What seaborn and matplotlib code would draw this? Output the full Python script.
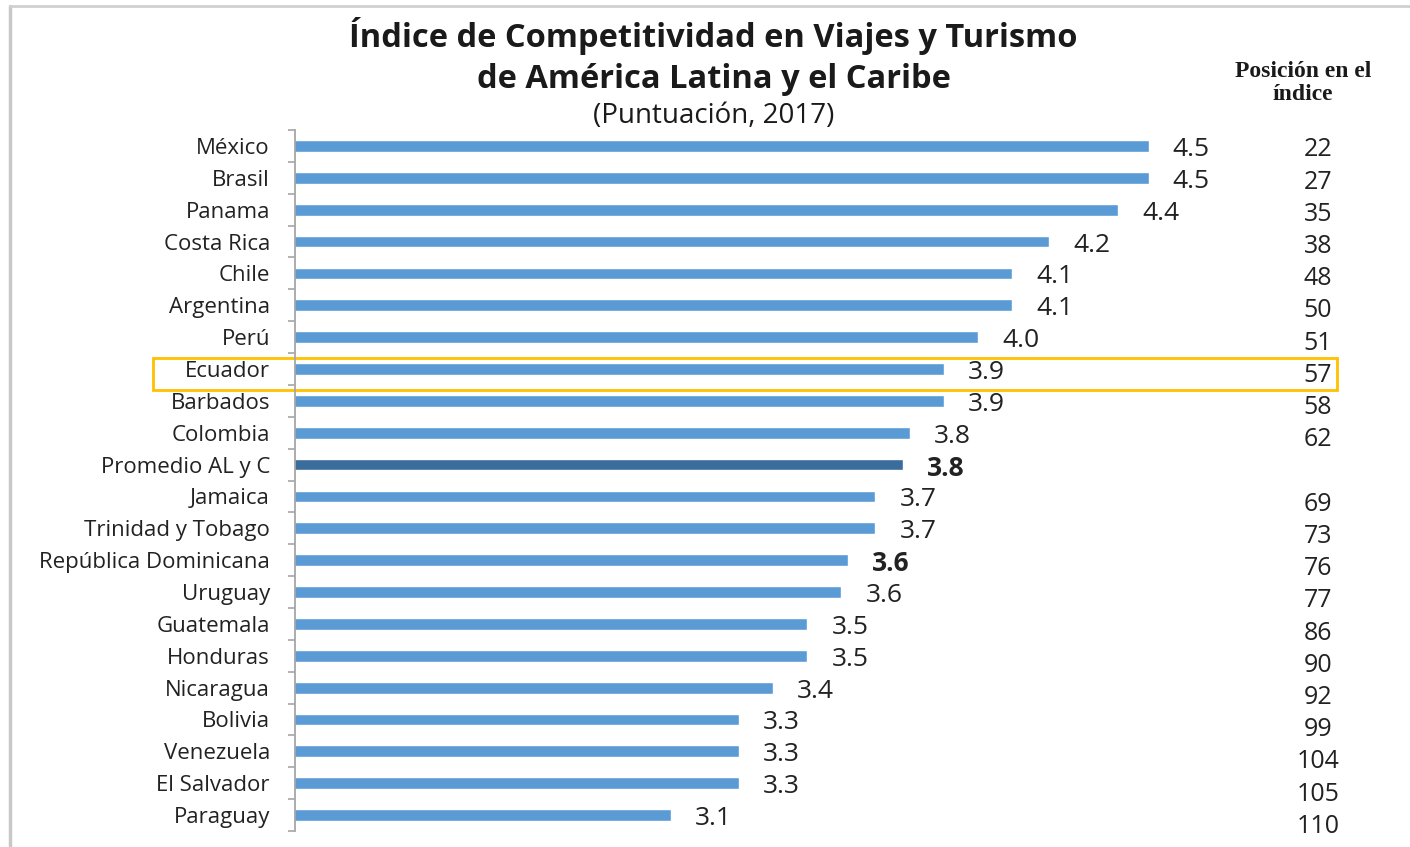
import matplotlib
matplotlib.use("Agg")
import matplotlib.pyplot as plt
import matplotlib.transforms as mtransforms
from matplotlib.patches import Rectangle
from matplotlib.lines import Line2D
import pandas as pd
import seaborn as sns

# Datos
paises = ["México", "Brasil", "Panama", "Costa Rica", "Chile", "Argentina", "Perú",
          "Ecuador", "Barbados", "Colombia", "Promedio AL y C", "Jamaica",
          "Trinidad y Tobago", "República Dominicana", "Uruguay", "Guatemala",
          "Honduras", "Nicaragua", "Bolivia", "Venezuela", "El Salvador", "Paraguay"]
puntuacion = [4.50, 4.50, 4.41, 4.21, 4.10, 4.10, 4.00, 3.90, 3.90, 3.80, 3.78, 3.70,
              3.70, 3.62, 3.60, 3.50, 3.50, 3.40, 3.30, 3.30, 3.30, 3.10]
etiquetas = ["4.5", "4.5", "4.4", "4.2", "4.1", "4.1", "4.0", "3.9", "3.9", "3.8", "3.8",
             "3.7", "3.7", "3.6", "3.6", "3.5", "3.5", "3.4", "3.3", "3.3", "3.3", "3.1"]
posicion = ["22", "27", "35", "38", "48", "50", "51", "57", "58", "62", "", "69", "73",
            "76", "77", "86", "90", "92", "99", "104", "105", "110"]
negrita = ["Promedio AL y C", "República Dominicana"]

df = pd.DataFrame({"pais": paises, "valor": puntuacion})

sns.set_style("white")
plt.rcParams["font.family"] = ["Open Sans", "DejaVu Sans"]

azul = "#5B9BD5"
azul_osc = "#3A6C9C"
colores = [azul_osc if p == "Promedio AL y C" else azul for p in paises]

fig = plt.figure(figsize=(14.1, 8.47), dpi=100)
ax = fig.add_axes([295 / 1410, 0.0189, 1 - 295 / 1410, 0.8276])

sns.barplot(data=df, y="pais", x="valor", hue="pais", palette=colores, legend=False,
            orient="h", width=0.37, saturation=1, ax=ax)

ax.set_xlim(2.0, 2.0 + 1115 / 341.4)
ax.set_ylim(len(paises) - 0.5, -0.5)
ax.set_xlabel("")
ax.set_ylabel("")
ax.set_xticks([])

for s in ["top", "right", "bottom"]:
    ax.spines[s].set_visible(False)
ax.spines["left"].set_color("#A6A6A6")
ax.spines["left"].set_linewidth(1.3)

ax.set_yticks(range(len(paises)))
ax.set_yticks([i - 0.5 for i in range(len(paises) + 1)], minor=True)
ax.tick_params(axis="y", which="major", length=0, pad=18, labelsize=16, labelcolor="#222222")
ax.tick_params(axis="y", which="minor", length=5, width=1.2, color="#A6A6A6", left=True)

# etiquetas de valor
for i, (v, t) in enumerate(zip(puntuacion, etiquetas)):
    peso = "bold" if paises[i] in negrita else "normal"
    ax.annotate(t, xy=(v, i), xytext=(17.5, -2.5), textcoords="offset points",
                ha="left", va="center", fontsize=19, color="#222222", fontweight=peso)

# columna de posicion
trans = mtransforms.blended_transform_factory(fig.transFigure, ax.transData)
for i, r in enumerate(posicion):
    ax.text(1318 / 1410, i + 0.125 + 0.011 * i, r, transform=trans,
            ha="center", va="center", fontsize=18, color="#222222")

# recuadro de Ecuador
ax.add_patch(Rectangle((153 / 1410, 6.65), 1184 / 1410, 1.01, transform=trans,
                       fill=False, edgecolor="#FFC000", linewidth=2, clip_on=False))

# titulos
fig.text(0.506, 1 - 36 / 847, "Índice de Competitividad en Viajes y Turismo",
         ha="center", va="center", fontsize=23.5, fontweight="bold", color="#1a1a1a")
fig.text(0.506, 1 - 79 / 847, "de América Latina y el Caribe",
         ha="center", va="center", fontsize=23.5, fontweight="bold", color="#1a1a1a")
fig.text(0.506, 1 - 116 / 847, "(Puntuación, 2017)",
         ha="center", va="center", fontsize=20, color="#1a1a1a")
fig.text(1303 / 1410, 1 - 83 / 847, "Posición en el\níndice", ha="center", va="center",
         fontsize=17, fontweight="bold", family="Liberation Serif", color="#1a1a1a",
         linespacing=1.1)

# marco gris
fig.add_artist(Line2D([10 / 1410, 10 / 1410], [0, 1 - 6 / 847], transform=fig.transFigure,
                      color="#C8C8C8", linewidth=2.5))
fig.add_artist(Line2D([10 / 1410, 1], [1 - 6 / 847, 1 - 6 / 847], transform=fig.transFigure,
                      color="#D0D0D0", linewidth=2))

fig.savefig("out.png", dpi=100, facecolor="white")
